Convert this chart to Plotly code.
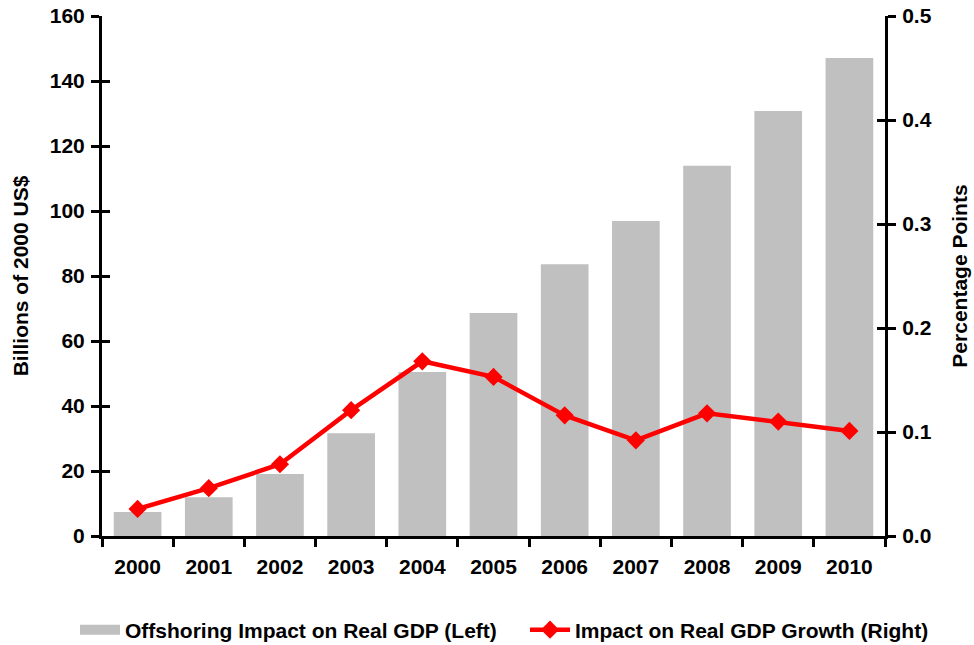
import plotly.graph_objects as go

# Offshoring impact series
years = ["2000", "2001", "2002", "2003", "2004", "2005", "2006", "2007", "2008", "2009", "2010"]
gdp_level = [7.4, 11.9, 19.1, 31.6, 50.5, 68.6, 83.6, 96.9, 113.9, 130.8, 147.1]   # billions of 2000 US$
gdp_growth = [0.026, 0.046, 0.069, 0.121, 0.168, 0.153, 0.116, 0.092, 0.118, 0.110, 0.101]  # percentage points

left_ticks = [0, 20, 40, 60, 80, 100, 120, 140, 160]
right_ticks = [0.0, 0.1, 0.2, 0.3, 0.4, 0.5]

BAR_NAME = "Offshoring Impact on Real GDP (Left)"
LINE_NAME = "Impact on Real GDP Growth (Right)"

FONT = "Liberation Sans, Arial, sans-serif"
SIZE = 21
bold = dict(family=FONT, size=SIZE, color="black", weight="bold")

fig = go.Figure()
fig.add_trace(go.Bar(
    x=years, y=gdp_level, name=BAR_NAME, showlegend=False, legendgroup="bar",
    marker=dict(color="#C0C0C0", line=dict(width=0)), yaxis="y",
))
# wide grey swatch for the bar series' legend entry
fig.add_trace(go.Scatter(
    x=years[:1], y=[None], name=BAR_NAME, legendgroup="bar", mode="lines",
    line=dict(color="#C0C0C0", width=14), yaxis="y", hoverinfo="skip", legend="legend",
))
fig.add_trace(go.Scatter(
    x=years, y=gdp_growth, name=LINE_NAME,
    mode="lines+markers", yaxis="y2", legend="legend2",
    line=dict(color="#FF0000", width=4.5),
    marker=dict(symbol="diamond", size=14, color="#FF0000"),
))
# helper traces so the inward half of the crossing ticks gets drawn
fig.add_trace(go.Scatter(x=years[:1], y=[None], yaxis="y3", showlegend=False, hoverinfo="skip"))
fig.add_trace(go.Scatter(x=years[:1], y=[None], yaxis="y4", showlegend=False, hoverinfo="skip"))

axis_common = dict(showgrid=False, zeroline=False, ticklen=8, tickwidth=3, tickcolor="black",
                   automargin=False)
legend_common = dict(
    orientation="h", xref="container", yref="container", xanchor="left",
    y=1 - 630 / 645, yanchor="middle", itemwidth=40, bgcolor="rgba(0,0,0,0)",
    font=bold,
)

fig.update_layout(
    width=974, height=645,
    margin=dict(l=102, r=89, t=16, b=109),
    paper_bgcolor="white", plot_bgcolor="white",
    bargap=0.33,
    font=bold,
    xaxis=dict(
        type="category", range=[-0.5, 10.5], showline=True, linecolor="black", linewidth=3,
        ticks="outside", tickson="boundaries", tickfont=bold, ticklabelstandoff=10,
        **axis_common,
    ),
    yaxis=dict(
        range=[0, 160], tickvals=left_ticks, showline=True, linecolor="black", linewidth=3,
        ticks="outside", tickfont=bold, ticklabelstandoff=2,
        title=dict(text="Billions of 2000 US$", font=bold, standoff=16),
        **axis_common,
    ),
    yaxis2=dict(
        range=[0, 0.5], tickvals=right_ticks, tickformat=".1f", overlaying="y", side="right",
        showline=True, linecolor="black", linewidth=3, ticks="outside", tickfont=bold,
        ticklabelstandoff=2,
        title=dict(text="Percentage Points", font=bold, standoff=22),
        **axis_common,
    ),
    yaxis3=dict(
        range=[0, 160], tickvals=left_ticks, overlaying="y", side="left", showline=False,
        ticks="inside", showticklabels=False, **axis_common,
    ),
    yaxis4=dict(
        range=[0, 0.5], tickvals=right_ticks, overlaying="y", side="right", showline=False,
        ticks="inside", showticklabels=False, **axis_common,
    ),
    legend=dict(x=75 / 974, **legend_common),
    legend2=dict(x=525 / 974, **legend_common),
    showlegend=True,
)

fig.write_html("out.html")
